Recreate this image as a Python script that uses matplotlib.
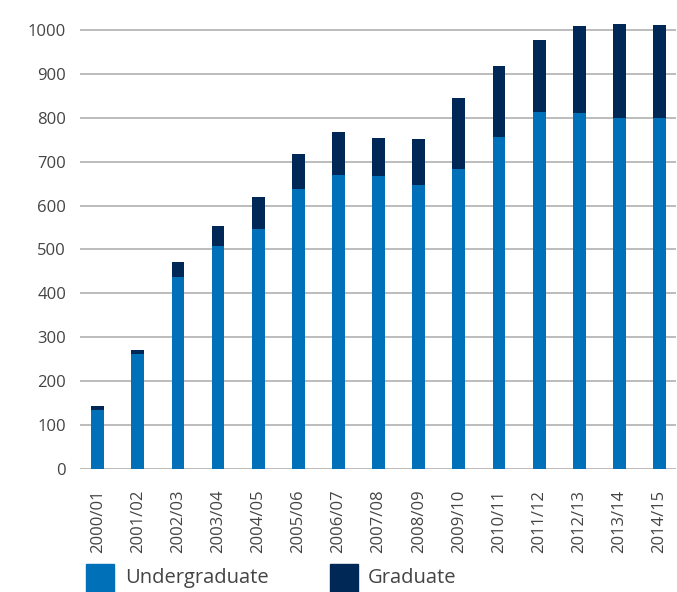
import matplotlib
matplotlib.use("Agg")
import matplotlib.pyplot as plt
from matplotlib.patches import Rectangle

plt.rcParams['font.family'] = ['Open Sans', 'DejaVu Sans']

years = ['2000/01', '2001/02', '2002/03', '2003/04', '2004/05', '2005/06', '2006/07',
         '2007/08', '2008/09', '2009/10', '2010/11', '2011/12', '2012/13', '2013/14', '2014/15']
undergrad = [135, 262, 437, 508, 547, 638, 670, 667, 647, 683, 756, 813, 811, 800, 800]
total = [143, 271, 471, 553, 620, 717, 768, 754, 752, 845, 918, 977, 1009, 1014, 1011]
graduate = [t - u for t, u in zip(total, undergrad)]

ug_color = '#0070b8'
gr_color = '#002856'
text_color = '#444444'

fig = plt.figure(figsize=(6.77, 5.92), dpi=100)
ax = fig.add_axes([80 / 677, 123 / 592, 596 / 677, 457 / 592])

x = list(range(len(years)))
ax.bar(x, undergrad, width=0.32, color=ug_color, zorder=3)
ax.bar(x, graduate, bottom=undergrad, width=0.32, color=gr_color, zorder=3, clip_on=False)

ax.set_ylim(0, 1041)
ax.set_xlim(-0.44, len(years) - 1 + 0.41)
ax.set_yticks(range(0, 1001, 100))
ax.set_xticks(x)
ax.set_xticklabels(years, rotation=90)
ax.yaxis.grid(True, color='#b0b0b0', linewidth=1.2, zorder=0)
ax.set_axisbelow(True)
for s in ax.spines.values():
    s.set_visible(False)
ax.tick_params(length=0, labelsize=12, labelcolor=text_color)
ax.tick_params(axis='y', pad=10)
ax.tick_params(axis='x', pad=15)

# legend
fig.add_artist(Rectangle((86 / 677, 0), 28 / 677, 28 / 592, transform=fig.transFigure, color=ug_color))
fig.text(125 / 677, 14 / 592, 'Undergraduate', fontsize=14.5, color=text_color, va='center')
fig.add_artist(Rectangle((330 / 677, 0), 28 / 677, 28 / 592, transform=fig.transFigure, color=gr_color))
fig.text(368 / 677, 14 / 592, 'Graduate', fontsize=14.5, color=text_color, va='center')

plt.savefig('out.png', dpi=100)
